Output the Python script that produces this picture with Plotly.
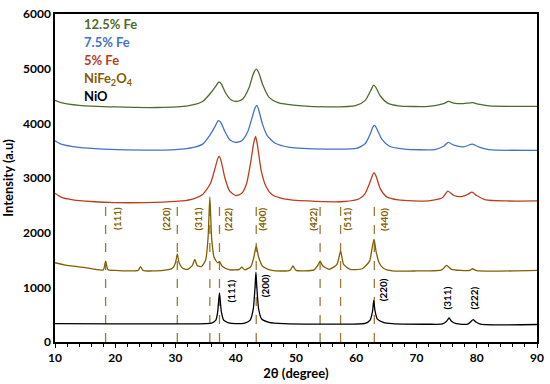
import plotly.graph_objects as go

# ---------------- data ----------------
nio_x = [10, 20, 30, 35, 36.0, 36.7, 37.0, 37.3, 37.6, 38.0, 38.8, 40, 41.5, 42.4, 42.9, 43.2, 43.35, 43.5, 43.8, 44.3, 45.5, 48,
         55, 61.5, 62.3, 62.7, 62.9, 63.1, 63.5, 64.5, 66, 72, 74.3, 75.0, 75.4, 75.8, 76.6, 78.5, 79.0, 79.4, 79.8, 80.6, 90]
nio_y = [336, 333, 330, 335, 345, 400, 550, 900, 560, 400, 350, 335, 345, 400, 600, 1000, 1280, 1000, 600, 420, 360, 335,
         328, 340, 400, 560, 760, 580, 420, 360, 335, 325, 330, 380, 440, 380, 335, 325, 370, 410, 370, 328, 320]

nife_x = [10, 12, 15, 18.0, 18.4, 18.8, 20, 22, 23.8, 24.2, 24.6, 28, 29.5, 30.0, 30.3, 30.6, 31.2, 32, 32.8, 33.2, 33.6, 34.3,
          35.0, 35.4, 35.7, 36.0, 36.4, 37.0, 37.3, 37.8, 39, 40.6, 41, 41.5, 42.5, 43.0, 43.4, 43.8, 44.5, 46, 49.0, 49.5, 50,
          53, 53.6, 54, 54.4, 55.5, 56.8, 57.4, 57.9, 59, 61, 62.2, 62.6, 62.95, 63.3, 63.8, 64.5, 66, 70, 74.2, 75.0, 75.8,
          78.8, 79.3, 80, 90]
nife_y = [1450, 1400, 1360, 1320, 1480, 1320, 1310, 1300, 1310, 1380, 1310, 1310, 1350, 1450, 1610, 1450, 1350, 1330, 1400, 1510, 1400, 1380,
          1500, 1900, 2650, 1900, 1550, 1450, 1470, 1380, 1320, 1330, 1370, 1320, 1380, 1550, 1760, 1550, 1380, 1310, 1310, 1390, 1310,
          1320, 1400, 1480, 1400, 1330, 1420, 1660, 1420, 1330, 1340, 1480, 1700, 1880, 1650, 1450, 1350, 1300, 1300, 1320, 1400, 1330,
          1310, 1340, 1305, 1310]

fe5_x = [10, 11, 13, 16, 20, 25, 28, 31, 33, 34.5, 35.8, 36.5, 37.0, 37.25, 37.6, 38.2, 39, 40, 41, 41.8, 42.5, 43.0, 43.3, 43.6,
         44.2, 45, 46, 48, 52, 58, 60.5, 61.5, 62.2, 62.7, 62.95, 63.3, 64, 65, 67, 72, 74.3, 75.2, 76.2, 77.5, 78.5, 79.2, 80,
         81.5, 85, 90]
fe5_y = [2720, 2650, 2600, 2570, 2550, 2550, 2560, 2580, 2620, 2700, 2900, 3150, 3350, 3400, 3300, 3000, 2760, 2680, 2720, 2900, 3300, 3650, 3760, 3600,
         3150, 2850, 2700, 2620, 2580, 2570, 2620, 2720, 2900, 3050, 3100, 3030, 2800, 2660, 2600, 2580, 2640, 2760, 2680, 2660, 2700, 2740, 2680,
         2600, 2580, 2580]

fe75_x = [10, 11, 14, 18, 25, 30, 33, 34.5, 35.8, 36.6, 37.1, 37.5, 38.2, 39, 40, 41, 42, 42.7, 43.2, 43.5, 43.8, 44.4, 45.2, 46.5,
          49, 55, 60, 61.5, 62.3, 62.8, 63.1, 63.5, 64.3, 65.5, 68, 73, 74.5, 75.3, 76.2, 77.8, 79.3, 80.3, 82, 90]
fe75_y = [3680, 3620, 3560, 3530, 3510, 3520, 3560, 3620, 3800, 3950, 4050, 4020, 3850, 3700, 3650, 3680, 3850, 4100, 4280, 4330, 4250, 4000, 3780, 3640,
          3560, 3530, 3540, 3630, 3800, 3940, 3960, 3880, 3700, 3580, 3530, 3520, 3580, 3650, 3600, 3570, 3620, 3570, 3520, 3505]

fe125_x = [10, 11, 14, 20, 27, 32, 34.5, 35.8, 36.7, 37.2, 37.6, 38.3, 39.2, 40.2, 41.2, 42.2, 42.9, 43.4, 43.8, 44.5, 45.5, 47,
           50, 56, 60, 61.5, 62.4, 62.9, 63.3, 64, 65.2, 67, 72, 74.5, 75.3, 76.2, 77.8, 79.3, 80.3, 82, 90]
fe125_y = [4420, 4380, 4330, 4300, 4290, 4320, 4400, 4550, 4680, 4760, 4720, 4560, 4430, 4400, 4450, 4650, 4900, 4990, 4930, 4700, 4480, 4380,
           4330, 4300, 4330, 4420, 4600, 4700, 4650, 4500, 4370, 4320, 4310, 4360, 4400, 4370, 4360, 4380, 4350, 4320, 4310]

# NiFe2O4 reference lines and labels
ref_lines_x = [18.4, 30.3, 35.7, 37.3, 43.4, 54.0, 57.4, 63.0]
ref_line_top = 2580
nife_labels = ["(111)", "(220)", "(311)", "(222)", "(400)", "(422)", "(511)", "(440)"]
nife_label_x = [20.3, 28.5, 33.8, 38.7, 44.3, 52.8, 58.4, 64.6]
nife_label_y = [2250, 2250, 2250, 2250, 2250, 2250, 2250, 2250]

nio_labels = ["(111)", "(200)", "(220)", "(311)", "(222)"]
nio_label_x = [39.2, 44.8, 64.4, 75.1, 79.6]
nio_label_y = [940, 1030, 960, 800, 800]

legend_names = ["12.5% Fe", "7.5% Fe", "5% Fe", "NiFe<sub>2</sub>O<sub>4</sub>", "NiO"]
legend_y = [5820, 5485, 5150, 4815, 4495]
legend_x = 14.4

x_ticks = [10, 20, 30, 40, 50, 60, 70, 80, 90]
y_ticks = [0, 1000, 2000, 3000, 4000, 5000, 6000]

# ---------------- style ----------------
C_GREEN = "#4F6B2E"
C_BLUE = "#4472C4"
C_RED = "#B9401F"
C_BROWN = "#7F6000"
C_DASH = "#9A7A3A"
C_BLACK = "#000000"
FONT = "Lato"

fig = go.Figure()

# dashed reference lines
dx, dy = [], []
for xv in ref_lines_x:
    dx += [xv, xv, None]
    dy += [0, ref_line_top, None]
fig.add_trace(go.Scatter(x=dx, y=dy, mode="lines",
                         line=dict(color=C_DASH, width=1.3, dash="dash"), hoverinfo="skip"))

for xs, ys, col in [(nio_x, nio_y, C_BLACK), (nife_x, nife_y, C_BROWN), (fe5_x, fe5_y, C_RED),
                    (fe75_x, fe75_y, C_BLUE), (fe125_x, fe125_y, C_GREEN)]:
    fig.add_trace(go.Scatter(x=xs, y=ys, mode="lines", line=dict(color=col, width=1.3, shape="spline", smoothing=0.6)))

for t, xv, yv in zip(nife_labels, nife_label_x, nife_label_y):
    fig.add_annotation(x=xv, y=yv, text="<b>" + t + "</b>", showarrow=False, textangle=-90,
                       font=dict(family=FONT, size=10, color=C_BROWN))
for t, xv, yv in zip(nio_labels, nio_label_x, nio_label_y):
    fig.add_annotation(x=xv, y=yv, text="<b>" + t + "</b>", showarrow=False, textangle=-90,
                       font=dict(family=FONT, size=10, color=C_BLACK))

for name, yv, col in zip(legend_names, legend_y, [C_GREEN, C_BLUE, C_RED, C_BROWN, C_BLACK]):
    fig.add_annotation(x=legend_x, y=yv, text="<b>" + name + "</b>", showarrow=False, xanchor="left",
                       font=dict(family=FONT, size=13, color=col))

fig.update_layout(
    width=550, height=384,
    margin=dict(l=53, r=9, t=6, b=40),
    paper_bgcolor="white", plot_bgcolor="white",
    showlegend=False,
    font=dict(family=FONT, color="black"),
    xaxis=dict(range=[10, 90], tickvals=x_ticks, ticktext=["<b>%d</b>" % v for v in x_ticks],
               showline=True, linecolor="black", linewidth=1.5, mirror=True,
               ticks="outside", ticklen=4, tickwidth=1.2, tickcolor="black",
               minor=dict(dtick=2, ticks="outside", ticklen=3, tickcolor="black"),
               showgrid=False, zeroline=False, tickfont=dict(size=12, family=FONT),
               title=dict(text="<b>2θ (degree)</b>", font=dict(size=13, family=FONT), standoff=4)),
    yaxis=dict(range=[0, 6000], tickvals=y_ticks, ticktext=["<b>%d</b>" % v for v in y_ticks],
               showline=True, linecolor="black", linewidth=1.5, mirror=True,
               ticks="", showgrid=False, zeroline=False, tickfont=dict(size=12, family=FONT),
               ticklabeloverflow="allow",
               title=dict(text="<b>Intensity (a.u)</b>", font=dict(size=13, family=FONT), standoff=8)),
)

fig.write_html("out.html", config={"displayModeBar": False},
               post_script="document.body.style.margin='0';document.body.style.padding='0';")
